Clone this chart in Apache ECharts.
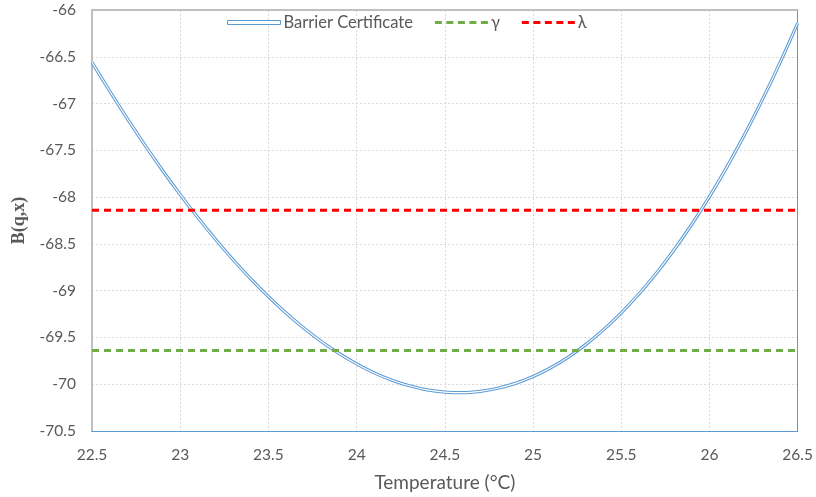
<!DOCTYPE html>
<html>
<head>
<meta charset="utf-8">
<script src="https://cdn.jsdelivr.net/npm/echarts@6/dist/echarts.min.js"></script>
<style>
html,body{margin:0;padding:0;background:#fff;}
#chart{width:816px;height:497px;}
</style>
</head>
<body>
<div id="chart"></div>
<script>
// Temperature values (x) and barrier certificate values
var temps = [22.5,22.6,22.7,22.8,22.9,23.0,23.1,23.2,23.3,23.4,23.5,23.6,23.7,23.8,23.9,24.0,24.1,24.2,24.3,24.4,24.5,24.6,24.7,24.8,24.9,25.0,25.1,25.2,25.3,25.4,25.5,25.6,25.7,25.8,25.9,26.0,26.1,26.2,26.3,26.4,26.5];
var barrier = [-66.560,-66.866,-67.161,-67.444,-67.715,-67.973,-68.219,-68.451,-68.670,-68.874,-69.064,-69.239,-69.399,-69.543,-69.671,-69.783,-69.879,-69.957,-70.017,-70.060,-70.084,-70.090,-70.076,-70.043,-69.991,-69.918,-69.824,-69.710,-69.574,-69.417,-69.237,-69.035,-68.810,-68.562,-68.290,-67.994,-67.674,-67.328,-66.958,-66.562,-66.140];
var gammaValue = -69.64;
var lambdaValue = -68.14;
var xRange = [22.5, 26.5];
var yRange = [-70.5, -66];
var seriesNames = ['Barrier Certificate', 'γ', 'λ'];

var curveData = temps.map(function(t, i){ return [t, barrier[i]]; });
var gammaData = xRange.map(function(x){ return [x, gammaValue]; });
var lambdaData = xRange.map(function(x){ return [x, lambdaValue]; });

var FONT = 'Lato';
var TXT = '#595959';
var BLUE = '#5b9bd5';
var DASH_ICON = 'path://M0,0h7v3h-7z M11.5,0h7v3h-7z M23,0h7v3h-7z M34.5,0h7v3h-7z M46,0h7v3h-7z';

var chart = echarts.init(document.getElementById('chart'));
chart.setOption({
  animation: false,
  backgroundColor: '#fff',
  grid: {left: 92, right: 18, top: 10, bottom: 62, containLabel: false},
  legend: {
    left: 227, top: 14, padding: 0,
    itemWidth: 53, itemHeight: 4, itemGap: 22,
    symbolKeepAspect: true,
    textStyle: {fontFamily: FONT, fontSize: 16.5, color: TXT, padding: [0, 0, 0, -2]},
    data: [
      {name: seriesNames[0], icon: 'rect', itemStyle: {color: '#ffffff', borderColor: BLUE, borderWidth: 1}},
      {name: seriesNames[1], icon: DASH_ICON, itemStyle: {color: '#70ad47'}},
      {name: seriesNames[2], icon: DASH_ICON, itemStyle: {color: '#ff0000'}}
    ]
  },
  xAxis: [{
    type: 'value', min: xRange[0], max: xRange[1], interval: 0.5,
    name: 'Temperature (°C)', nameLocation: 'middle', nameGap: 42,
    nameTextStyle: {fontFamily: FONT, fontSize: 19, color: TXT},
    axisLine: {show: true, onZero: false, lineStyle: {color: BLUE, width: 1}},
    axisTick: {show: false},
    axisLabel: {fontFamily: FONT, fontSize: 15.5, color: TXT, margin: 16},
    splitLine: {show: true, lineStyle: {color: '#d9d9d9', type: [2, 2], width: 1}}
  }, {
    type: 'value', position: 'top', min: xRange[0], max: xRange[1], interval: 0.5,
    axisLine: {show: true, onZero: false, lineStyle: {color: '#bfbfbf', width: 2}},
    axisTick: {show: false}, axisLabel: {show: false}, splitLine: {show: false}
  }],
  yAxis: [{
    type: 'value', min: yRange[0], max: yRange[1], interval: 0.5,
    name: 'B(q,x)', nameLocation: 'middle', nameGap: 57,
    nameTextStyle: {fontFamily: 'Liberation Serif', fontSize: 18, fontWeight: 'bold', color: TXT},
    axisLine: {show: true, onZero: false, lineStyle: {color: '#bfbfbf', width: 2}},
    axisTick: {show: false},
    axisLabel: {fontFamily: FONT, fontSize: 15.5, color: TXT, margin: 16},
    splitLine: {show: true, lineStyle: {color: '#d9d9d9', type: [2, 2], width: 1}}
  }, {
    type: 'value', position: 'right', min: yRange[0], max: yRange[1], interval: 0.5,
    axisLine: {show: true, onZero: false, lineStyle: {color: BLUE, width: 1}},
    axisTick: {show: false}, axisLabel: {show: false}, splitLine: {show: false}
  }],
  series: [
    {
      name: seriesNames[0], type: 'line', data: curveData, showSymbol: false, symbol: 'none',
      smooth: 0.3, lineStyle: {color: BLUE, width: 3.2}, itemStyle: {color: BLUE}, z: 2
    },
    {
      name: 'inner', type: 'line', data: curveData, showSymbol: false, symbol: 'none',
      smooth: 0.3, lineStyle: {color: '#ffffff', width: 1.1}, z: 3, silent: true
    },
    {
      name: seriesNames[1], type: 'line', data: gammaData, showSymbol: false, symbol: 'none',
      lineStyle: {color: '#70ad47', width: 3, type: [7, 5]}, itemStyle: {color: '#70ad47'}, z: 4
    },
    {
      name: seriesNames[2], type: 'line', data: lambdaData, showSymbol: false, symbol: 'none',
      lineStyle: {color: '#ff0000', width: 3, type: [7, 5]}, itemStyle: {color: '#ff0000'}, z: 5
    }
  ]
});
</script>
</body>
</html>
